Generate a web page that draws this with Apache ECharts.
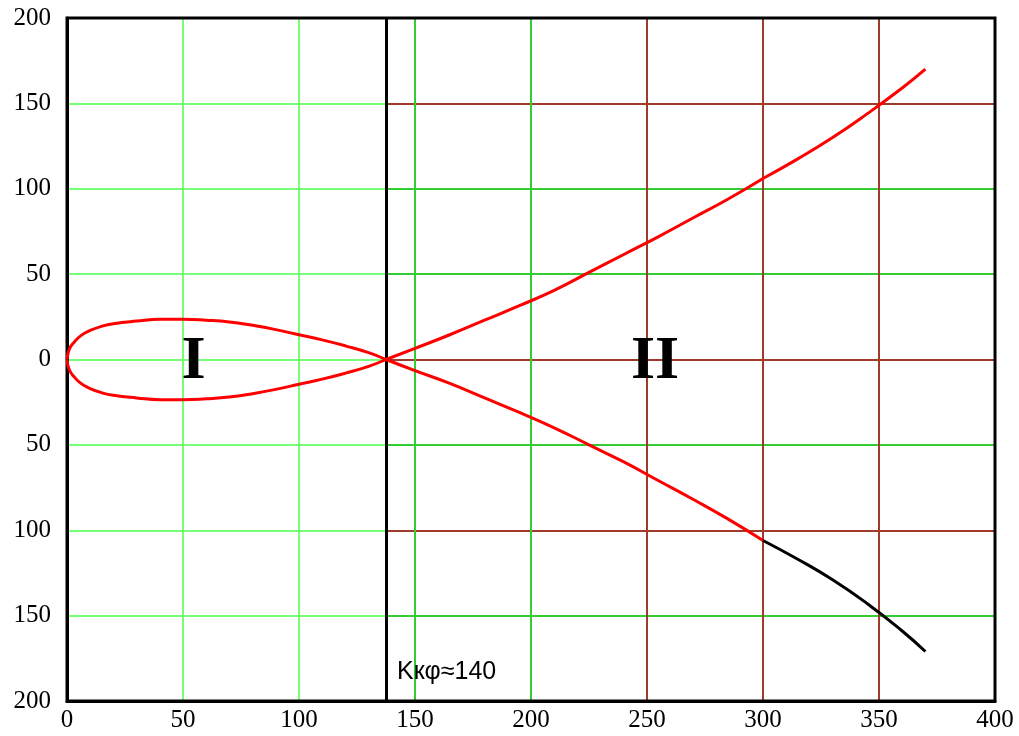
<!DOCTYPE html>
<html>
<head>
<meta charset="utf-8">
<script src="https://cdn.jsdelivr.net/npm/echarts@6/dist/echarts.min.js"></script>
<style>
  html, body { margin: 0; padding: 0; background: #fff; }
  #chart { width: 1019px; height: 736px; }
</style>
</head>
<body>
<div id="chart"></div>
<script>
// loop (region I), upper and lower halves
const loopX = [0, 1, 3, 6, 10, 15, 20, 30, 40, 50, 60, 70, 80, 90, 100, 110, 120, 130, 137.5];
const loopUpper = [0, 6, 10, 14, 17, 19.5, 21, 22.5, 23.5, 23.5, 23, 22, 20, 17.5, 14.5, 11.5, 8, 4, 0];
const loopLower = [0, -6, -10, -14, -17, -19.5, -21, -22.5, -23.5, -23.5, -23, -22, -20, -17.5, -14.5, -11.5, -8, -4, 0];

// branches (region II)
const branchX = [137.5, 150, 165, 180, 195, 210, 225, 240, 255, 270, 285, 300];
const branchUpper = [0, 6.5, 14.5, 23, 31.5, 40.5, 51, 61.5, 72, 83, 94, 106];
const branchLower = [0, -6.5, -14, -22.5, -31, -40, -50, -60, -71, -82, -93.5, -106];
const tailX = [300, 315, 330, 345, 360, 370];
const tailUpper = [106, 117.5, 130, 144, 159, 170];
const tailLower = [-106, -117, -129, -143, -159, -171];

const kCrit = 137.5;
const zoneLabels = [{name: 'I', x: 54.5, y: -1.5}, {name: 'II', x: 253.5, y: -1.5}];

const pairs = (xs, ys) => xs.map((x, i) => [x, ys[i]]);

const light = '#77ff77';
const green = '#33cc33';
const brown = '#a03a2a';

const chart = echarts.init(document.getElementById('chart'), null, {renderer: 'canvas'});

const redLine = (data) => ({
    type: 'line', data: data, showSymbol: false, smooth: true,
    xAxisIndex: 0, yAxisIndex: 0,
    lineStyle: {color: '#ff0000', width: 3}, z: 5
});

const option = {
    backgroundColor: '#fff',
    animation: false,
    grid: [
        {left: 67, right: 24, top: 18, bottom: 35, show: true, borderColor: '#000', borderWidth: 3, z: 3},
        {left: 67, width: 319, top: 18, bottom: 35},
        {left: 386, right: 24, top: 18, bottom: 35}
    ],
    xAxis: [
        {
            type: 'value', gridIndex: 0, min: 0, max: 400, interval: 50,
            axisLine: {show: true, onZero: false, lineStyle: {color: '#000', width: 3}},
            axisTick: {show: false},
            axisLabel: {color: '#000', fontFamily: 'Liberation Serif', fontSize: 25, margin: 7},
            splitLine: {show: true, lineStyle: {width: 2,
                color: ['#000', light, light, green, green, brown, brown, brown, '#000']}}
        },
        {type: 'value', gridIndex: 1, min: 0, max: kCrit, show: false, splitLine: {show: false}},
        {type: 'value', gridIndex: 2, min: kCrit, max: 400, show: false, splitLine: {show: false}}
    ],
    yAxis: [
        {
            type: 'value', gridIndex: 0, min: -200, max: 200, interval: 50,
            axisLine: {show: true, onZero: false, lineStyle: {color: '#000', width: 3}},
            axisTick: {show: false},
            axisLabel: {color: '#000', fontFamily: 'Liberation Serif', fontSize: 25, margin: 16,
                formatter: v => String(Math.abs(v))},
            splitLine: {show: false}
        },
        {
            type: 'value', gridIndex: 1, min: -200, max: 200, interval: 50,
            axisLine: {show: false}, axisTick: {show: false}, axisLabel: {show: false},
            splitLine: {show: true, lineStyle: {width: 2,
                color: ['#000', light, light, light, light, light, light, light, '#000']}}
        },
        {
            type: 'value', gridIndex: 2, min: -200, max: 200, interval: 50,
            axisLine: {show: false}, axisTick: {show: false}, axisLabel: {show: false},
            splitLine: {show: true, lineStyle: {width: 2,
                color: ['#000', green, brown, green, brown, green, green, brown, '#000']}}
        }
    ],
    series: [
        Object.assign(redLine(pairs(loopX, loopUpper)), {
            markLine: {
                silent: true, symbol: 'none', label: {show: false},
                lineStyle: {color: '#000', width: 3, type: 'solid'},
                data: [{xAxis: kCrit}]
            }
        }),
        redLine(pairs(loopX, loopLower)),
        redLine(pairs(branchX, branchUpper)),
        redLine(pairs(branchX, branchLower)),
        redLine(pairs(tailX, tailUpper)),
        {
            type: 'line', data: pairs(tailX, tailLower), showSymbol: false, smooth: true,
            lineStyle: {color: '#000', width: 3}, z: 5
        },
        {
            type: 'scatter', symbolSize: 0, z: 6,
            itemStyle: {color: '#000', opacity: 1},
            data: zoneLabels.map(d => ({name: d.name, value: [d.x, d.y]})),
            label: {
                show: true, position: 'inside', formatter: p => p.name,
                color: '#000', textBorderWidth: 0, opacity: 1,
                fontFamily: 'Liberation Serif', fontWeight: 'bold', fontSize: 62
            }
        }
    ],
    graphic: [
        {
            type: 'text', left: 397, top: 660, z: 10,
            style: {text: 'Kкφ≈140', fill: '#000', font: '25px "Liberation Sans"'}
        }
    ]
};

chart.setOption(option);
</script>
</body>
</html>
